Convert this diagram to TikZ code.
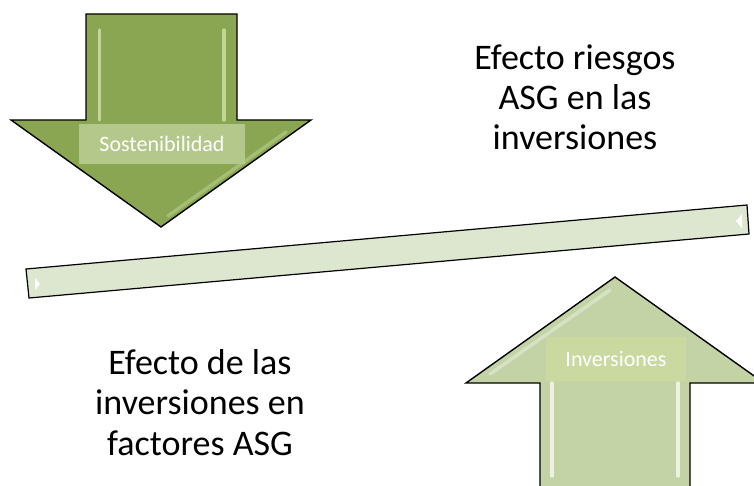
\documentclass[tikz,border=0pt]{standalone}
\usepackage{fontspec}
\setmainfont{Carlito}
\definecolor{darkolive}{HTML}{8AA653}
\definecolor{lightolive}{HTML}{C3D3A6}
\definecolor{barfill}{HTML}{DDE6CF}
\definecolor{sostag}{HTML}{B3C88A}
\definecolor{invtag}{HTML}{CAD99F}
\definecolor{glint}{HTML}{DCEBB0}
\begin{document}
\begin{tikzpicture}[x=1pt, y=-1pt,
    outline/.style={draw=black, line width=1.4pt, line join=miter},
    shine/.style={draw=#1, line width=3.5pt, line cap=round, opacity=0.7},
    bigtext/.style={align=center, font=\fontsize{36}{40.3}\selectfont, text=black},
    tag/.style={minimum width=#1, inner sep=0pt, text=white, font=\fontsize{22}{24}\selectfont}]
\useasboundingbox (0,0) rectangle (754,486);
\clip (0,0) rectangle (754,486);

% down arrow
\draw[outline, fill=darkolive] (86,14) -- (237,14) -- (237,120) -- (311,120) -- (161,227) -- (11,120) -- (86,120) -- cycle;
\draw[shine=glint] (99.5,30) -- (99.5,120);
\draw[shine=glint] (224,30) -- (224,120);
\draw[shine=glint, opacity=0.35] (286,132) -- (168,216);
\node[tag=166pt, minimum height=40pt, fill=sostag] (sos) at (162,144) {Sostenibilidad};

% up arrow
\draw[outline, fill=lightolive] (540,490) -- (540,383) -- (466,383) -- (615,277) -- (764,383) -- (690,383) -- (690,490) -- cycle;
\draw[shine=white] (552,383) -- (552,476);
\draw[shine=white] (678,383) -- (678,476);
\draw[shine=white, opacity=0.35] (610,290) -- (490,374);
\node[tag=140pt, minimum height=44pt, fill=invtag] (inv) at (616,359) {Inversiones};

% bar
\draw[outline, line width=1.2pt, fill=barfill] (26,269) -- (747,205) -- (749,234) -- (29,298) -- cycle;
\fill[white] (35,278) -- (40,284) -- (35,290) -- cycle;
\fill[white] (736,221) -- (742,214) -- (742,228) -- cycle;

\node[bigtext, anchor=base] (risk) at (575,150) {Efecto riesgos\\ASG en las\\inversiones};
\node[bigtext, anchor=base] (effect) at (200,455) {Efecto de las\\inversiones en\\factores ASG};
\end{tikzpicture}
\end{document}
